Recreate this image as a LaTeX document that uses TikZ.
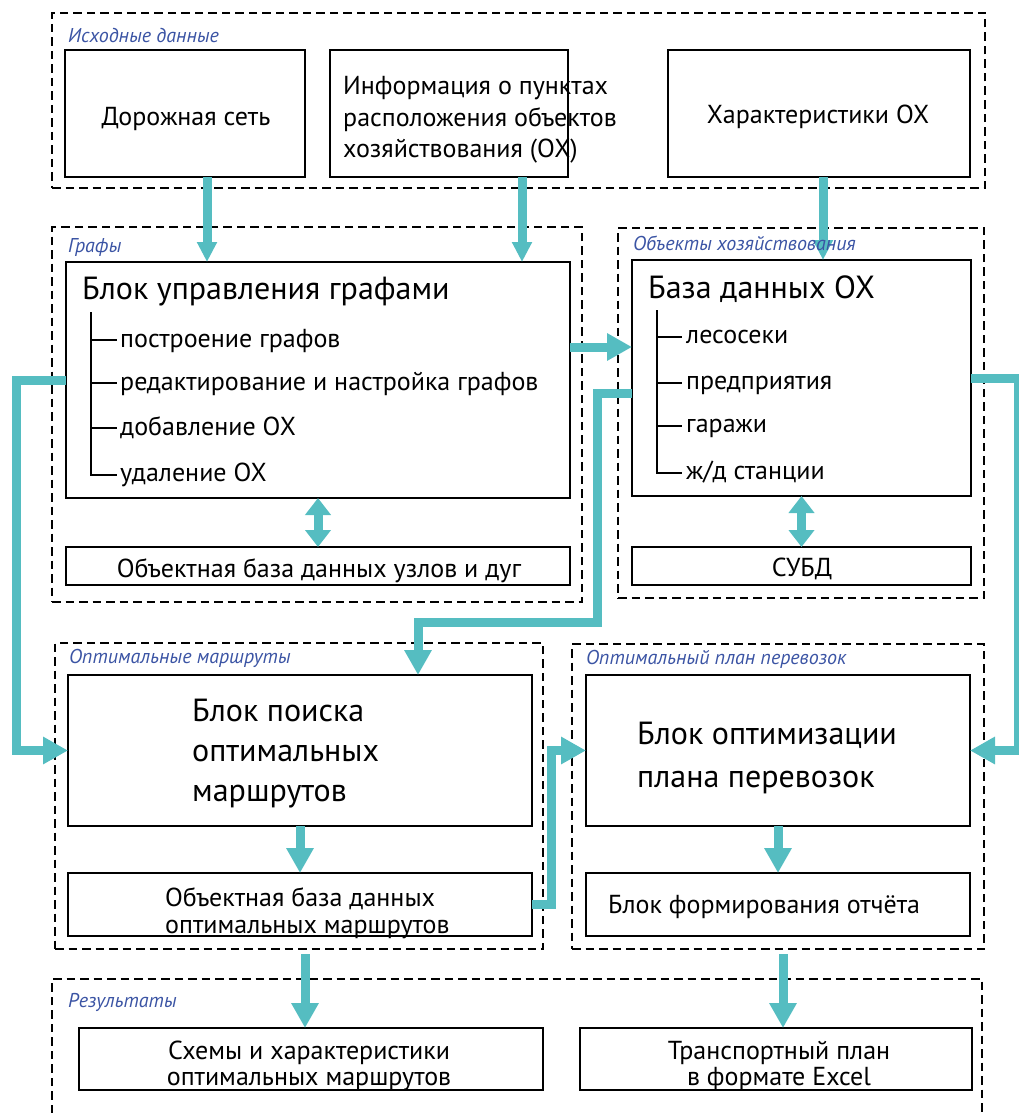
\documentclass[tikz,border=0pt]{standalone}
\usepackage{fontspec}
\setmainfont{PT Sans}
\usetikzlibrary{arrows.meta,fit}
\definecolor{tealc}{HTML}{55BDC1}
\definecolor{lblue}{HTML}{3B54A4}
\begin{document}
\begin{tikzpicture}[x=1pt,y=-1pt,
  grp/.style={draw, line width=2.7pt, dash pattern=on 8.5pt off 5pt},
  box/.style={draw, line width=1.5pt, fill=white, inner sep=0pt, outer sep=0pt},
  lbl/.style={font=\fontsize{20}{24}\selectfont\itshape, text=lblue, anchor=base west, inner sep=0pt},
  txt/.style={font=\fontsize{26}{31.5}\selectfont, inner sep=0pt},
  bigt/.style={font=\fontsize{32}{40}\selectfont, inner sep=0pt},
  tree/.style={draw, line width=1.3pt},
  arr/.style={draw=tealc, line width=9pt, -{Triangle[length=25pt,width=26pt]}},
  arrs/.style={draw=tealc, line width=9pt, -{Triangle[length=20pt,width=19pt]}},
  darr/.style={draw=tealc, line width=9pt, {Triangle[length=17pt,width=25pt]}-{Triangle[length=17pt,width=25pt]}},
]
\useasboundingbox (0,0) rectangle (1019,1113);

% groups
\node[grp, fit={(52,13)(985,188)}, inner sep=0pt] (gin) {};
\node[grp, fit={(52,227)(582,602)}, inner sep=0pt] (ggraph) {};
\node[grp, fit={(618,228)(984,598)}, inner sep=0pt] (gox) {};
\node[grp, fit={(55,643)(543,949)}, inner sep=0pt] (groutes) {};
\node[grp, fit={(572,644)(984,949)}, inner sep=0pt] (gplan) {};
\draw[grp] (52,1113) -- (52,979) -- (982,979) -- (982,1113);

% boxes
\node[box, fit={(65,50)(305,177)}] (road) {};
\node[txt, anchor=base] (roadt) at (186,125) {Дорожная сеть};
\node[box, fit={(330,50)(568,177)}] (info) {};
\node[txt, align=left, anchor=west] (infot) at (343,120) {Информация о пунктах\\расположения объектов\\хозяйствования (ОХ)};
\node[box, fit={(668,50)(970,177)}] (charox) {};
\node[txt, anchor=base] (charoxt) at (818,124) {Характеристики ОХ};

\node[box, fit={(66,262)(570,498)}] (graphblk) {};
\node[bigt, anchor=base west] (graphtitle) at (82,299) {Блок управления графами};
\node[txt, anchor=base west] (gi1) at (120,347) {построение графов};
\node[txt, anchor=base west] (gi2) at (120,390) {редактирование и настройка графов};
\node[txt, anchor=base west] (gi3) at (120,435) {добавление ОХ};
\node[txt, anchor=base west] (gi4) at (120,481) {удаление ОХ};
\draw[tree] (91,312) -- (91,475) -- (117,475);
\draw[tree] (91,340) -- (117,340);
\draw[tree] (91,383) -- (117,383);
\draw[tree] (91,428) -- (117,428);
\node[box, fit={(66,547)(570,585)}] (nodedb) {};
\node[txt, anchor=base] (nodedbt) at (319,577) {Объектная база данных узлов и дуг};

\node[box, fit={(632,260)(971,496)}] (dbox) {};
\node[bigt, anchor=base west] (dbtitle) at (648,298) {База данных ОХ};
\node[txt, anchor=base west] (di1) at (686,343) {лесосеки};
\node[txt, anchor=base west] (di2) at (686,389) {предприятия};
\node[txt, anchor=base west] (di3) at (686,432) {гаражи};
\node[txt, anchor=base west] (di4) at (686,479) {ж/д станции};
\draw[tree] (657,310) -- (657,473) -- (682,473);
\draw[tree] (657,337) -- (682,337);
\draw[tree] (657,383) -- (682,383);
\draw[tree] (657,426) -- (682,426);
\node[box, fit={(632,547)(971,585)}] (dbms) {};
\node[txt, anchor=base] (dbmst) at (802,576) {СУБД};

\node[box, fit={(68,675)(532,826)}] (searchblk) {};
\node[bigt, align=left, anchor=west] (searcht) at (192,754) {Блок поиска\\оптимальных\\маршрутов};
\node[box, fit={(68,873)(532,936)}] (objroutes) {};
\node[txt, font=\fontsize{26}{27}\selectfont, align=left, anchor=west] (objroutest) at (165,913) {Объектная база данных\\оптимальных маршрутов};

\node[box, fit={(586,675)(970,826)}] (optblk) {};
\node[bigt, font=\fontsize{32}{43}\selectfont, align=left, anchor=west] (optt) at (637,758) {Блок оптимизации\\плана перевозок};
\node[box, fit={(586,873)(970,936)}] (report) {};
\node[txt, anchor=base west] (reportt) at (608,913) {Блок формирования отчёта};

\node[box, fit={(79,1028)(543,1090)}] (schemes) {};
\node[txt, font=\fontsize{26}{26}\selectfont, align=center] (schemest) at (309,1066) {Схемы и характеристики\\оптимальных маршрутов};
\node[box, fit={(580,1028)(972,1090)}] (plan) {};
\node[txt, font=\fontsize{26}{26}\selectfont, align=center] (plant) at (779,1066) {Транспортный план\\в формате Excel};

% connectors
\draw[arrs] ([xshift=22pt]road.south) -- ([xshift=22pt]road.south |- graphblk.north);
\draw[arrs] ([xshift=73pt]info.south) -- ([xshift=73pt]info.south |- graphblk.north);
\draw[arrs] ([xshift=4pt]charox.south) -- ([xshift=4pt]charox.south |- dbox.north);
\draw[arr] ([yshift=33pt]graphblk.east) -- ([yshift=33pt]graphblk.east -| dbox.west);
\draw[arr] (graphblk.west) -- ++(-49.5,0) |- (searchblk.west);
\draw[arr] ([yshift=-15.5pt]dbox.west) -- ++(-35,0) -- ++(0,228.5) -| ([xshift=118pt]searchblk.north);
\draw[arr] (dbox.east) -- ++(47,0) |- (optblk.east);
\draw[arr] (objroutes.east) -- ++(19,0) |- (optblk.west);
\draw[arr] (searchblk.south) -- (objroutes.north);
\draw[arr] (optblk.south) -- (report.north);
\draw[darr] (graphblk.south) -- (nodedb.north);
\draw[darr] (dbox.south) -- (dbms.north);
\draw[arr] ([xshift=6pt,yshift=-4pt]groutes.south) -- ([xshift=6pt]groutes.south |- schemes.north);
\draw[arr] ([xshift=5pt,yshift=-4pt]gplan.south) -- ([xshift=5pt]gplan.south |- plan.north);

% group labels
\node[lbl] (lin) at (68,43) {Исходные данные};
\node[lbl] (lgraph) at (68,252) {Графы};
\node[lbl] (lox) at (633,250) {Объекты хозяйствования};
\node[lbl] (lroutes) at (69,663) {Оптимальные маршруты};
\node[lbl] (lplan) at (586,664) {Оптимальный план перевозок};
\node[lbl] (lres) at (68,1007) {Результаты};
\end{tikzpicture}
\end{document}
